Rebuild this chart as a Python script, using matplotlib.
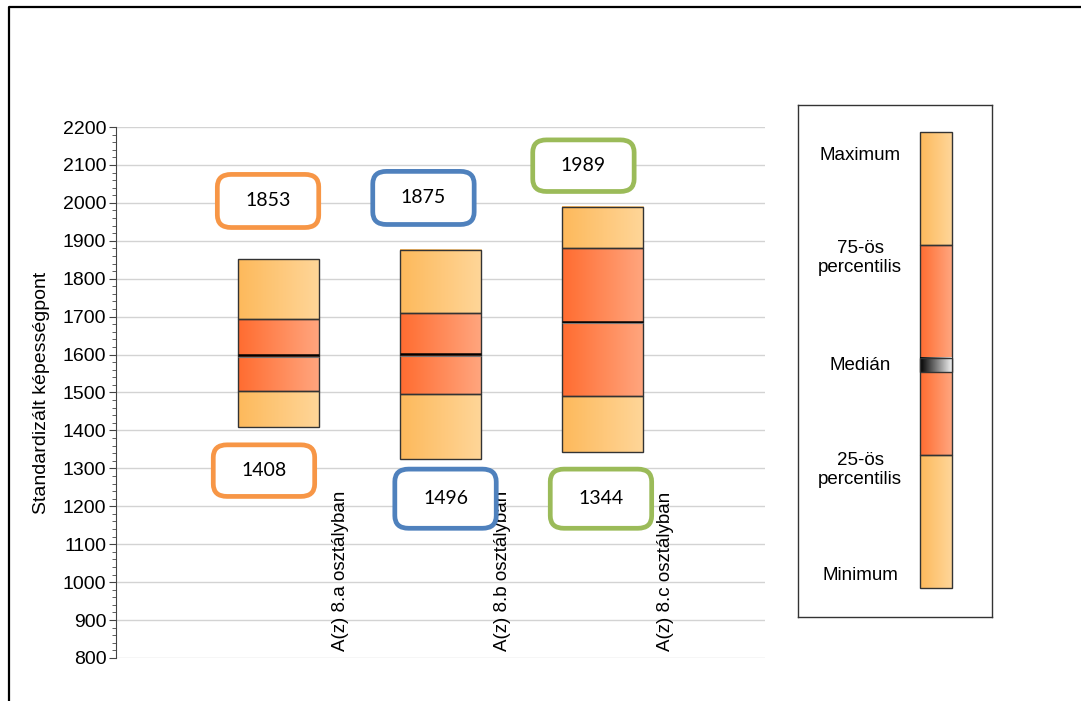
import numpy as np
import matplotlib
matplotlib.use("Agg")
from matplotlib import pyplot as plt
from matplotlib.colors import LinearSegmentedColormap
from matplotlib.patches import Rectangle, FancyBboxPatch
from matplotlib.lines import Line2D

plt.rcParams['font.family'] = ['Liberation Sans', 'DejaVu Sans']

# adatok
osztalyok = ["A(z) 8.a osztályban", "A(z) 8.b osztályban", "A(z) 8.c osztályban"]
minimum = [1408, 1325, 1344]
p25 = [1505, 1495, 1492]
median = [1598, 1601, 1687]
p75 = [1695, 1709, 1880]
maximum = [1853, 1876, 1989]
felso_cimke = [1853, 1875, 1989]
also_cimke = [1408, 1496, 1344]
keret_szin = ['#F79646', '#4F81BD', '#9BBB59']

yticks = list(range(800, 2201, 100))

KULSO = ('#FDB95B', '#FFD699')  # külső szakasz, bal -> jobb
BELSO = ('#FF6C30', '#FFA67F')  # belső szakasz
MED = ('#000000', '#F0F0F0')


def gradient(ax, x0, x1, y0, y1, colors, z=2):
    '''
    vízszintes színátmenetes téglalap rajzolása keretvonallal
    '''
    cmap = LinearSegmentedColormap.from_list('g', list(colors))
    grad = np.linspace(0, 1, 256).reshape(1, -1)
    ax.imshow(grad, cmap=cmap, extent=[x0, x1, y0, y1], aspect='auto',
              interpolation='bilinear', zorder=z)
    ax.add_patch(Rectangle((x0, y0), x1 - x0, y1 - y0, fill=False,
                           ec='#333333', lw=1, zorder=z + 0.5))


fig = plt.figure(figsize=(10.81, 7.01), dpi=100)

# külső keret
fig.add_artist(Line2D([9 / 1081, 9 / 1081, 1.01], [-0.01, 1 - 7 / 701, 1 - 7 / 701],
                      transform=fig.transFigure, color='black', lw=1.6))

ax = fig.add_axes([116 / 1081, 1 - 658 / 701, 649 / 1081, 531 / 701])

w = 0.25
for i in range(3):
    x = i + 1
    gradient(ax, x - w, x + w, minimum[i], p25[i], KULSO)
    gradient(ax, x - w, x + w, p25[i], p75[i], BELSO)
    gradient(ax, x - w, x + w, p75[i], maximum[i], KULSO)
    # medián: vékony fekete sáv
    ax.plot([x - w, x + w], [median[i], median[i]], color='black', lw=1.8,
            solid_capstyle='butt', zorder=3)
    ax.plot([x - w, x + w], [median[i] - 4, median[i] - 4], color='#777777', lw=0.8,
            solid_capstyle='butt', zorder=3)
    ax.text(x + 0.385, 818, osztalyok[i], rotation=90, ha='center', va='bottom',
            fontsize=13.5, zorder=4)

# címke dobozok (középpont eltolása a dobozhoz képest)
felso_hely = [(-0.063, 2005), (-0.105, 2013), (-0.119, 2098)]
also_hely = [(-0.088, 1294), (0.031, 1220), (-0.011, 1220)]
felso_mag = [140, 140, 136]
also_mag = [136, 156, 156]
bw = 0.625
for i in range(3):
    for val, (dx, yc), h in ((felso_cimke[i], felso_hely[i], felso_mag[i]),
                             (also_cimke[i], also_hely[i], also_mag[i])):
        xc = i + 1 + dx
        box = FancyBboxPatch((xc - bw / 2, yc - h / 2), bw, h,
                             boxstyle="round,pad=0,rounding_size=0.085",
                             mutation_aspect=33 / 0.085,
                             fc='white', ec=keret_szin[i], lw=3.4, zorder=5)
        ax.add_patch(box)
        ax.text(xc, yc, str(val), ha='center', va='center', fontsize=14,
                family=['Lato', 'DejaVu Sans'], zorder=6)

ax.set_xlim(0, 4)
ax.set_ylim(800, 2200)
ax.set_yticks(yticks)
ax.set_yticks(range(800, 2201, 20), minor=True)
ax.set_xticks([])
ax.grid(axis='y', color='#D3D3D3', lw=1, zorder=0)
ax.set_axisbelow(True)
for s in ['top', 'right', 'bottom']:
    ax.spines[s].set_visible(False)
ax.spines['left'].set_color('#444444')
ax.tick_params(axis='y', which='major', length=5, labelsize=14, color='#444444', pad=2)
ax.tick_params(axis='y', which='minor', length=3, color='#444444')
ax.set_ylabel("Standardizált képességpont", fontsize=14, labelpad=9)

# jelmagyarázat
lg = fig.add_axes([798 / 1081, 1 - 617 / 701, 194 / 1081, 512 / 701])
lg.set_xlim(0, 194)
lg.set_ylim(512, 0)
lg.set_xticks([])
lg.set_yticks([])
for s in lg.spines.values():
    s.set_color('#333333')
    s.set_linewidth(1)

gradient(lg, 122, 154, 483, 350, KULSO)
gradient(lg, 122, 154, 350, 140, BELSO)
gradient(lg, 122, 154, 140, 27, KULSO)
gradient(lg, 122, 154, 267, 252.5, MED, z=3)

feliratok = ["Maximum", "75-ös\npercentilis", "Medián", "25-ös\npercentilis", "Minimum"]
fel_y = [50, 153, 260, 365, 470]
for t, yy in zip(feliratok, fel_y):
    lg.text(62, yy, t, ha='center', va='center', fontsize=13.5, linespacing=1.2)

fig.savefig("out.png", dpi=100)
